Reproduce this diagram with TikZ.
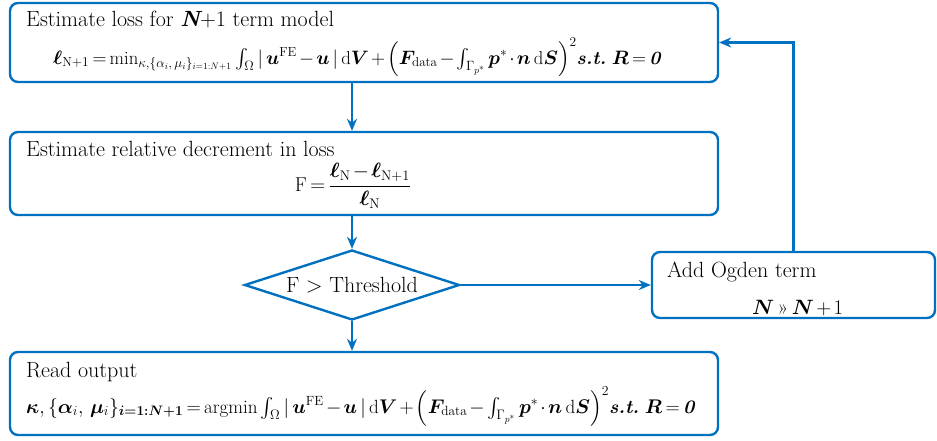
\documentclass[tikz,border=0pt]{standalone}
\usepackage{amsmath}
\usepackage{graphicx}
\usepackage{bm}
\usepackage{fontspec}
\usetikzlibrary{shapes.geometric,arrows.meta}
\definecolor{flowblue}{RGB}{0,112,192}
\newcommand{\bi}[1]{\text{\bfseries\itshape #1}}
\newcommand{\tightmu}{\medmuskip=2mu\relax\thickmuskip=3mu\relax}
\begin{document}
\begin{tikzpicture}[x=1pt,y=-1pt,
  box/.style={draw=flowblue,line width=2.4pt,rounded corners=8pt,inner sep=0pt},
  diam/.style={draw=flowblue,line width=2.4pt,diamond,aspect=3,inner sep=0pt,minimum width=215pt,minimum height=70pt,font=\fontsize{22}{26}\selectfont},
  ttl/.style={inner sep=0pt,font=\fontsize{22}{26}\selectfont},
  lbl/.style={inner sep=0pt,font=\fontsize{20}{24}\selectfont},
  conn/.style={draw=flowblue,line width=2.4pt,-{Stealth[length=12pt,width=10pt]}}]
\useasboundingbox (0,0) rectangle (937,440);
% boxes
\node[box,minimum width=708pt,minimum height=79pt] (b1) at (364,42.5) {};
\node[box,minimum width=708pt,minimum height=83pt] (b2) at (364,173.5) {};
\node[diam] (d) at (352,285) {F > Threshold};
\node[box,minimum width=283pt,minimum height=66pt] (og) at (793.5,285) {};
\node[box,minimum width=708pt,minimum height=83pt] (b3) at (364,393.5) {};
% texts
\node[ttl,anchor=base west] (t1) at (26,26) {Estimate loss for \bi{N}+1 term model};
\node[lbl,anchor=base west] (f1) at (53,64) {\scalebox{0.935}{$\tightmu\bm{\ell}_{\mathrm{N}+1} = \mathop{\mathrm{min}}\nolimits_{\kappa,\{\alpha_i,\,\mu_i\}_{i=1:N+1}} \int_{\Omega} |\,\bm{u}^{\mathrm{FE}} - \bm{u}\,|\,\mathrm{d}\bm{V} + \Bigl(\bm{F}_{\mathrm{data}} - \int_{\Gamma_{p^*}} \bm{p}^{*}\cdot\bm{n}\,\mathrm{d}\bm{S}\Bigr)^{2} \bi{s.t.}\ \bm{R} = \bi{0}$}};
\node[ttl,anchor=base west] (t2) at (26,156) {Estimate relative decrement in loss};
\node[lbl] (f2) at (353,186) {$\tightmu\mathrm{F} = \dfrac{\bm{\ell}_{\mathrm{N}} - \bm{\ell}_{\mathrm{N}+1}}{\bm{\ell}_{\mathrm{N}}}$};
\node[ttl,anchor=base west] (t3) at (667,277) {Add Ogden term};
\node[lbl,anchor=base west,font=\fontsize{21}{24}\selectfont] (f3) at (752,314) {$\tightmu\bm{N}\,\text{»}\,\bm{N}+1$};
\node[ttl,anchor=base west] (t4) at (26,377) {Read output};
\node[lbl,anchor=base west] (f4) at (26,413) {\scalebox{0.953}{$\tightmu\bm{\kappa}, \{\bm{\alpha}_i,\,\bm{\mu}_i\}_{\bm{i=1:N+1}} = \mathrm{argmin}\int_{\Omega} |\,\bm{u}^{\mathrm{FE}} - \bm{u}\,|\,\mathrm{d}\bm{V} + \Bigl(\bm{F}_{\mathrm{data}} - \int_{\Gamma_{p^*}} \bm{p}^{*}\cdot\bm{n}\,\mathrm{d}\bm{S}\Bigr)^{2} \bi{s.t.}\ \bm{R} = \bi{0}$}};
% connectors
\draw[conn] (b1.south -| d.north) -- (b2.north -| d.north);
\draw[conn] (b2.south -| d.north) -- (d.north);
\draw[conn] (d.south) -- (b3.north -| d.south);
\draw[conn] (d.east) -- (og.west);
\draw[conn] (og.north) |- (b1.east);
\end{tikzpicture}
\end{document}
